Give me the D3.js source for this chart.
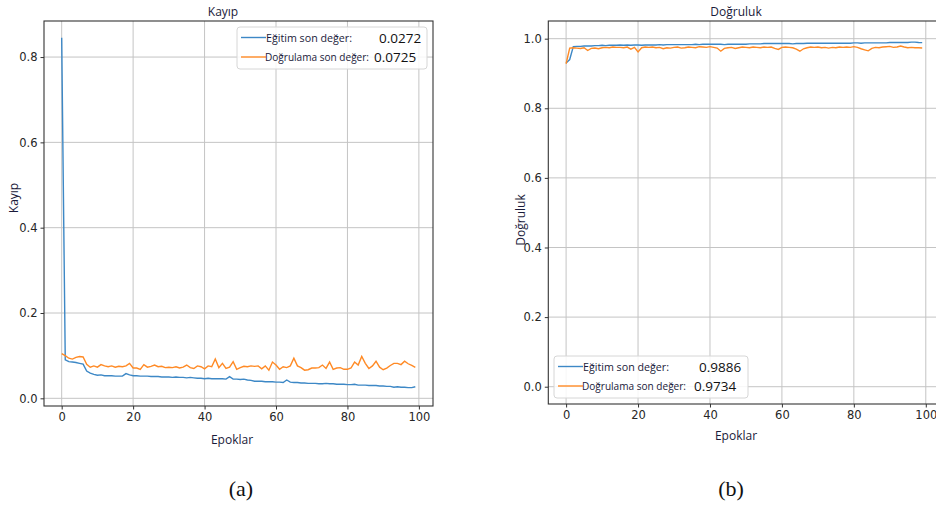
<!DOCTYPE html>
<html lang="tr">
<head>
<meta charset="utf-8">
<title>Kayıp / Doğruluk</title>
<script src="https://cdn.jsdelivr.net/npm/d3@7"></script>
<style>
body { margin: 0; background: #fff; }
svg { display: block; }
</style>
</head>
<body>
<script>
var width = 936, height = 505;

// epochs 0..99
var epochs = d3.range(100);

var trainLoss = [0.845,0.090,0.086,0.085,0.084,0.082,0.080,0.064,0.059,0.056,
  0.054,0.055,0.053,0.053,0.053,0.052,0.052,0.052,0.058,0.055,
  0.053,0.053,0.052,0.052,0.052,0.051,0.051,0.051,0.050,0.050,
  0.050,0.049,0.050,0.049,0.049,0.048,0.049,0.048,0.047,0.047,
  0.046,0.047,0.046,0.046,0.046,0.046,0.045,0.051,0.045,0.045,
  0.044,0.045,0.043,0.042,0.040,0.040,0.040,0.039,0.039,0.039,
  0.038,0.038,0.037,0.043,0.038,0.037,0.037,0.036,0.036,0.035,
  0.035,0.035,0.034,0.034,0.035,0.034,0.034,0.033,0.033,0.033,
  0.032,0.032,0.033,0.031,0.031,0.031,0.030,0.030,0.030,0.029,
  0.029,0.028,0.028,0.026,0.027,0.026,0.026,0.025,0.025,0.0272];

var valLoss = [0.105,0.100,0.094,0.092,0.096,0.098,0.097,0.080,0.073,0.076,
  0.073,0.079,0.076,0.074,0.076,0.073,0.075,0.074,0.076,0.082,
  0.071,0.071,0.068,0.079,0.073,0.075,0.078,0.074,0.075,0.072,
  0.073,0.072,0.074,0.071,0.073,0.078,0.072,0.070,0.076,0.074,
  0.069,0.076,0.074,0.092,0.072,0.082,0.070,0.073,0.086,0.068,
  0.072,0.075,0.074,0.076,0.075,0.076,0.069,0.076,0.066,0.085,
  0.078,0.068,0.074,0.072,0.076,0.094,0.076,0.072,0.066,0.067,
  0.071,0.071,0.072,0.078,0.070,0.085,0.068,0.071,0.072,0.068,
  0.068,0.071,0.085,0.078,0.098,0.082,0.070,0.076,0.087,0.073,
  0.067,0.071,0.077,0.082,0.082,0.079,0.087,0.081,0.077,0.0725];

var trainAcc = [0.930,0.940,0.977,0.978,0.978,0.979,0.979,0.979,0.980,0.980,
  0.981,0.980,0.981,0.981,0.981,0.982,0.981,0.982,0.981,0.982,
  0.982,0.981,0.982,0.982,0.982,0.982,0.983,0.982,0.983,0.983,
  0.983,0.983,0.983,0.983,0.983,0.983,0.984,0.983,0.984,0.984,
  0.984,0.984,0.984,0.984,0.983,0.984,0.984,0.984,0.984,0.984,
  0.984,0.985,0.985,0.985,0.985,0.986,0.986,0.986,0.986,0.986,
  0.986,0.986,0.986,0.985,0.986,0.986,0.986,0.987,0.987,0.987,
  0.987,0.987,0.987,0.987,0.987,0.987,0.987,0.987,0.987,0.987,
  0.988,0.988,0.987,0.988,0.988,0.988,0.988,0.988,0.988,0.988,
  0.989,0.989,0.989,0.989,0.989,0.989,0.990,0.990,0.989,0.9886];

var valAcc = [0.928,0.973,0.974,0.973,0.972,0.974,0.966,0.972,0.973,0.971,
  0.974,0.975,0.974,0.976,0.975,0.975,0.974,0.976,0.970,0.975,
  0.962,0.974,0.976,0.975,0.976,0.974,0.975,0.971,0.974,0.973,
  0.975,0.976,0.973,0.974,0.976,0.975,0.974,0.977,0.976,0.975,
  0.977,0.975,0.973,0.964,0.972,0.974,0.975,0.972,0.974,0.976,
  0.975,0.974,0.976,0.975,0.974,0.976,0.975,0.976,0.972,0.969,
  0.975,0.976,0.975,0.974,0.970,0.964,0.971,0.974,0.976,0.975,
  0.976,0.974,0.975,0.973,0.975,0.974,0.976,0.975,0.976,0.975,
  0.977,0.975,0.971,0.968,0.965,0.972,0.975,0.974,0.976,0.977,
  0.978,0.975,0.976,0.979,0.976,0.974,0.975,0.974,0.974,0.9734];

var xTicks = [0, 20, 40, 60, 80, 100];
var lossTicks = [0.0, 0.2, 0.4, 0.6, 0.8];
var accTicks = [0.0, 0.2, 0.4, 0.6, 0.8, 1.0];

var legendNames = ["Eğitim son değer:", "Doğrulama son değer:"];
var lossFinal = ["0.0272", "0.0725"];
var accFinal = ["0.9886", "0.9734"];

var blue = "#3d88c6", orange = "#ff8a25";

var svg = d3.select("body").append("svg")
    .attr("width", width).attr("height", height);

function panel(o) {
    var x = d3.scaleLinear().domain([-4.95, 103.95]).range([o.left, o.right]);
    var y = d3.scaleLinear().domain(o.ydom).range([o.bottom, o.top]);
    var g = svg.append("g");

    var clipId = "clip" + o.id;
    svg.append("defs").append("clipPath").attr("id", clipId)
        .append("rect").attr("x", o.left).attr("y", o.top)
        .attr("width", Math.min(o.right, width) - o.left).attr("height", o.bottom - o.top);

    // grid
    g.selectAll(".gx").data(xTicks).enter().append("line")
        .attr("x1", d => x(d)).attr("x2", d => x(d))
        .attr("y1", o.top).attr("y2", o.bottom)
        .attr("stroke", "#c4c4c4").attr("stroke-width", 1);
    g.selectAll(".gy").data(o.yticks).enter().append("line")
        .attr("x1", o.left).attr("x2", o.right)
        .attr("y1", d => y(d)).attr("y2", d => y(d))
        .attr("stroke", "#c4c4c4").attr("stroke-width", 1);

    var line = d3.line().x((d, i) => x(epochs[i])).y(d => y(d));
    var lines = g.append("g").attr("clip-path", "url(#" + clipId + ")");
    lines.append("path").datum(o.train).attr("d", line)
        .attr("fill", "none").attr("stroke", blue).attr("stroke-width", 1.4);
    lines.append("path").datum(o.val).attr("d", line)
        .attr("fill", "none").attr("stroke", orange).attr("stroke-width", 1.4);

    // spines
    g.append("rect").attr("x", o.left).attr("y", o.top)
        .attr("width", o.right - o.left).attr("height", o.bottom - o.top)
        .attr("fill", "none").attr("stroke", "#333").attr("stroke-width", 1.1);

    var xa = d3.axisBottom(x).tickValues(xTicks).tickSize(3.5).tickPadding(3)
        .tickFormat(d3.format("d"));
    var gx = g.append("g").attr("transform", "translate(0," + o.bottom + ")").call(xa);
    var ya = d3.axisLeft(y).tickValues(o.yticks).tickSize(3.5).tickPadding(3)
        .tickFormat(d3.format(".1f"));
    var gy = g.append("g").attr("transform", "translate(" + o.left + ",0)").call(ya);
    [gx, gy].forEach(function (a) {
        a.select(".domain").remove();
        a.selectAll("line").attr("stroke", "#333");
        a.selectAll("text").attr("fill", "#262626")
            .style("font-family", "DejaVu Sans").style("font-size", "11.5px");
    });

    // texts
    function txt(t, tx, ty, extra) {
        var e = g.append("text").text(t).attr("x", tx).attr("y", ty)
            .attr("text-anchor", "middle")
            .style("font-family", "Open Sans").style("font-size", "12px")
            .style("fill", "#1a1a3a");
        if (extra) extra(e);
        return e;
    }
    txt(o.title, o.titleX, 16);
    txt("Epoklar", o.xlabX, o.xlabY);
    txt(o.title, 0, 0, e => e.attr("transform",
        "translate(" + o.ylabX + "," + o.ylabY + ") rotate(-90)"));
    g.append("text").text(o.tag).attr("x", o.tagX).attr("y", 496)
        .attr("text-anchor", "middle")
        .style("font-family", "Liberation Serif").style("font-size", "22px").style("fill", "#111");

    // legend
    var lg = g.append("g").attr("transform", "translate(" + o.legX + "," + o.legY + ")");
    lg.append("rect").attr("width", o.legW).attr("height", 42).attr("rx", 3)
        .attr("fill", "#fff").attr("fill-opacity", 0.85)
        .attr("stroke", "#d6d6d6").attr("stroke-width", 1);
    var rows = lg.selectAll(".row").data(legendNames).enter().append("g")
        .attr("transform", (d, i) => "translate(0," + (10.5 + i * 19.5) + ")");
    rows.append("line").attr("x1", 4).attr("x2", 29).attr("y1", 0).attr("y2", 0)
        .attr("stroke", (d, i) => i ? orange : blue).attr("stroke-width", 1.4);
    rows.append("text").text(d => d).attr("x", (d, i) => i ? 28 : 29).attr("y", 4)
        .attr("textLength", (d, i) => i ? 104 : 86).attr("lengthAdjust", "spacingAndGlyphs")
        .style("font-family", "Open Sans").style("font-size", "11px").style("fill", "#1a1a3a");
    rows.append("text").text((d, i) => o.finals[i]).attr("x", (d, i) => o.valX[i]).attr("y", 5)
        .style("font-family", "Open Sans").style("font-size", "13.5px").style("fill", "#111");
}

panel({
    id: "a", left: 44, right: 433, top: 21, bottom: 406,
    ydom: [-0.018, 0.8845], yticks: lossTicks,
    train: trainLoss, val: valLoss, title: "Kayıp",
    titleX: 223, xlabX: 232, xlabY: 444, ylabX: 18, ylabY: 198,
    tag: "(a)", tagX: 241,
    legX: 237, legY: 27, legW: 190, finals: lossFinal, valX: [142, 137]
});

panel({
    id: "b", left: 548.3, right: 940, top: 21, bottom: 404,
    ydom: [-0.0497, 1.0508], yticks: accTicks,
    train: trainAcc, val: valAcc, title: "Doğruluk",
    titleX: 736, xlabX: 736, xlabY: 440, ylabX: 525, ylabY: 220,
    tag: "(b)", tagX: 731,
    legX: 554, legY: 356, legW: 194, finals: accFinal, valX: [145, 140]
});
</script>
</body>
</html>
